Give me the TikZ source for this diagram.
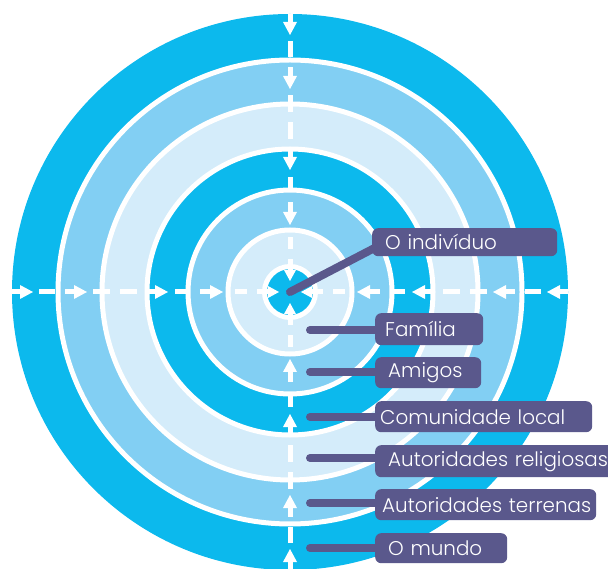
\documentclass[tikz,border=0pt]{standalone}
\usepackage{fontspec}
\setmainfont{Poppins Light}
\definecolor{ringA}{RGB}{12,185,237}
\definecolor{ringB}{RGB}{130,207,243}
\definecolor{ringC}{RGB}{212,236,250}
\definecolor{tagcol}{RGB}{90,88,140}
\begin{document}
\begin{tikzpicture}[x=1pt,y=-1pt,
  tag/.style={fill=tagcol, text=white, rounded corners=6pt, anchor=north west,
    align=left, inner ysep=0pt, font=\fontsize{19.9}{22}\selectfont},
  leader/.style={draw=tagcol, line width=8pt, line cap=round},
  ring/.style={draw=white, line width=5pt},
  dashseg/.style={draw=white, line width=5pt}]
\useasboundingbox (0,0) rectangle (608,569);
\coordinate (c) at (290,292);

% concentric bands, outermost first
\fill[ringA] (c) circle (278pt);
\filldraw[ring, fill=ringB] (c) circle (232pt);
\filldraw[ring, fill=ringC] (c) circle (188pt);
\filldraw[ring, fill=ringA] (c) circle (143pt);
\filldraw[ring, fill=ringB] (c) circle (102pt);
\filldraw[ring, fill=ringC] (c) circle (62pt);
\filldraw[ring, fill=ringA] (c) circle (25.5pt);

% dashed axes with inward arrows, one set per direction
\foreach \a in {0,90,180,270}{
  \begin{scope}[shift={(c)}, rotate=\a]
    \foreach \s/\e in {251/235, 197/180, 170/153, 115/100, 55/43}
      \draw[dashseg] (\s,0) -- (\e,0);
    \foreach \s/\t in {278/257, 225/203, 143/122, 90/67}{
      \draw[dashseg] (\s,0) -- (\t+11,0);
      \fill[white] (\t,0) -- (\t+13,7) -- (\t+13,-7) -- cycle;
    }
    % innermost arrow, slightly smaller head
    \draw[dashseg] (33,0) -- (21,0);
    \fill[white] (11,0) -- (22,6) -- (22,-6) -- cycle;
  \end{scope}
}

% label tags
\node[tag, inner xsep=13pt, text width=159pt, minimum height=28pt] (ind) at (372,228) {\mbox{O indivíduo}};
\node[tag, inner xsep=10pt, text width=88pt, minimum height=32pt] (fam) at (375,313) {\mbox{Família}};
\node[tag, inner xsep=13pt, text width=80pt, minimum height=31pt] (ami) at (375,357) {\mbox{Amigos}};
\node[tag, inner xsep=5pt, text width=207pt, minimum height=31pt] (com) at (375,401) {\mbox{Comunidade local}};
\node[tag, inner xsep=13pt, text width=214pt, minimum height=32pt] (rel) at (375,445) {\mbox{Autoridades religiosas}};
\node[tag, inner xsep=7pt, text width=207pt, minimum height=31pt] (ter) at (375,489) {\mbox{Autoridades terrenas}};
\node[tag, inner xsep=13pt, text width=106pt, minimum height=30pt] (mun) at (375,533) {\mbox{O mundo}};

% leader lines
\coordinate (pfam) at (310,330);
\coordinate (pami) at (310,372);
\coordinate (pcom) at (310,417);
\coordinate (prel) at (310,458);
\coordinate (pter) at (310,503);
\coordinate (pmun) at (310,548);
\draw[leader] (c) -- ([xshift=6pt,yshift=-4pt]ind.west);
\foreach \p/\n in {pfam/fam, pami/ami, pcom/com, prel/rel, pter/ter, pmun/mun}
  \draw[leader] (\p) -- (\p -| \n.west);
\end{tikzpicture}
\end{document}
